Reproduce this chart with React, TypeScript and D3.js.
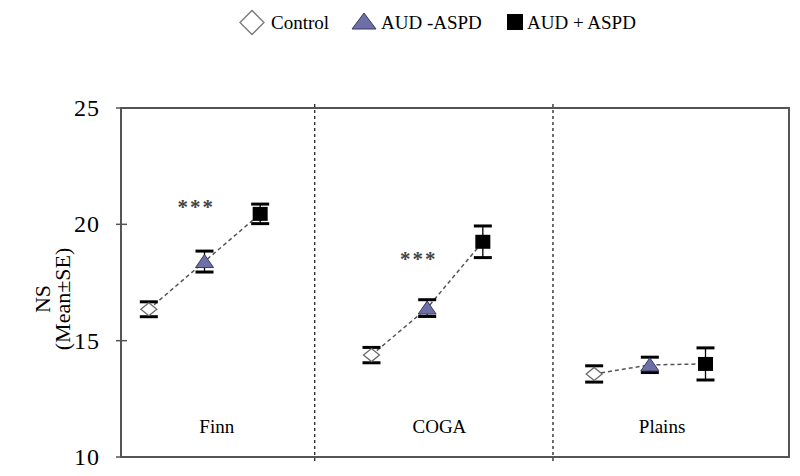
import React from "react";
import * as d3 from "d3";

const groups = ["Finn", "COGA", "Plains"];
const seriesNames = ["Control", "AUD -ASPD", "AUD + ASPD"];
const means = [
  [16.35, 18.4, 20.45],
  [14.38, 16.4, 19.25],
  [13.57, 13.96, 14.0],
];
const errs = [
  [0.32, 0.45, 0.42],
  [0.33, 0.36, 0.68],
  [0.35, 0.33, 0.69],
];
const sigLabels = ["***", "***", ""];
const sigLevel = [20.85, 18.6, 0];
const yTicks = [10, 15, 20, 25];

const W = 800;
const H = 476;
const L = 121, R = 789, T = 108, B = 457;
const FONT = "'Liberation Serif', 'Times New Roman', serif";

function Marker({ kind, x, y, s = 1 }: { kind: number; x: number; y: number; s?: number }) {
  if (kind === 0) {
    return (
      <path
        d={`M${x - 8 * s},${y} L${x},${y - 6.5 * s} L${x + 8 * s},${y} L${x},${y + 6.5 * s} Z`}
        fill="#fff"
        stroke="#6a6a6a"
        strokeWidth={1.3}
      />
    );
  }
  if (kind === 1) {
    return (
      <path
        d={`M${x - 9 * s},${y + 6 * s} L${x},${y - 7 * s} L${x + 9 * s},${y + 6 * s} Z`}
        fill="#6f6fa8"
        stroke="#3a3a5a"
        strokeWidth={1}
      />
    );
  }
  return <rect x={x - 7.5 * s} y={y - 7 * s} width={15 * s} height={14 * s} fill="#000" />;
}

export default function App() {
  const x = d3.scaleLinear().domain([0, 12]).range([L, R]);
  const y = d3.scaleLinear().domain([10, 25]).range([B, T]);
  const px = (g: number, i: number) => x(g * 4 + i + 0.5);
  const dividers = [3.48, 7.76];

  return (
    <svg width={W} height={H} style={{ position: "absolute", left: 0, top: 0 }}>
      <rect width={W} height={H} fill="#fff" />
      {/* legend */}
      <g fontFamily={FONT} fontSize={19} fill="#000">
        <path d="M240,22.5 L252,10.5 L264,22.5 L252,34.5 Z" fill="#fff" stroke="#777" strokeWidth={1.3} />
        <text x={271} y={29}>{seriesNames[0]}</text>
        <path d="M352,29 L364,13 L376,29 Z" fill="#6f6fa8" stroke="#3a3a5a" strokeWidth={1} />
        <text x={381} y={29}>{seriesNames[1]}</text>
        <rect x={507} y={14} width={16} height={16} fill="#000" />
        <text x={527} y={29}>{seriesNames[2]}</text>
      </g>
      {/* frame */}
      <rect x={L} y={T} width={R - L} height={B - T} fill="none" stroke="#555" strokeWidth={2} />
      {dividers.map((d, i) => (
        <line key={i} x1={x(d)} x2={x(d)} y1={T - 4} y2={B + 5} stroke="#222" strokeWidth={1.3} strokeDasharray="3,3" />
      ))}
      {/* y ticks */}
      {yTicks.map((t) => (
        <g key={t}>
          <line x1={L - 5} x2={L + 6} y1={y(t)} y2={y(t)} stroke="#555" strokeWidth={1.5} />
          <text x={100} y={y(t) + 8} textAnchor="end" fontFamily={FONT} fontSize={24} letterSpacing={1}>
            {t}
          </text>
        </g>
      ))}
      {/* y label */}
      <g transform="translate(50,299) rotate(-90)" fontFamily={FONT} fontSize={22} textAnchor="middle">
        <text x={0} y={0}>NS</text>
        <text x={0} y={20}>(Mean±SE)</text>
      </g>
      {/* groups */}
      {groups.map((g, gi) => {
        const pts = means[gi].map((m, i) => [px(gi, i), y(m)] as [number, number]);
        const path = d3.line()(pts) as string;
        return (
          <g key={g}>
            <path d={path} fill="none" stroke="#555" strokeWidth={1.5} strokeDasharray="4,3" />
            {means[gi].map((m, i) => {
              const cx = px(gi, i);
              const top = y(m + errs[gi][i]);
              const bot = y(m - errs[gi][i]);
              return (
                <g key={i}>
                  <line x1={cx} x2={cx} y1={top} y2={bot} stroke="#000" strokeWidth={1.3} />
                  <line x1={cx - 9} x2={cx + 9} y1={top} y2={top} stroke="#000" strokeWidth={3} />
                  <line x1={cx - 9} x2={cx + 9} y1={bot} y2={bot} stroke="#000" strokeWidth={3} />
                  <Marker kind={i} x={cx} y={y(m)} />
                </g>
              );
            })}
            {sigLabels[gi] && (
              <text
                x={x(gi * 4 + 1.35)}
                y={y(sigLevel[gi]) + 9}
                textAnchor="middle"
                fontFamily={FONT}
                fontSize={21}
                fontWeight="bold"
                fill="#444"
                letterSpacing={2}
              >
                {sigLabels[gi]}
              </text>
            )}
            <text x={x(gi * 4 + 1.72)} y={433} textAnchor="middle" fontFamily={FONT} fontSize={19}>
              {g}
            </text>
          </g>
        );
      })}
    </svg>
  );
}
